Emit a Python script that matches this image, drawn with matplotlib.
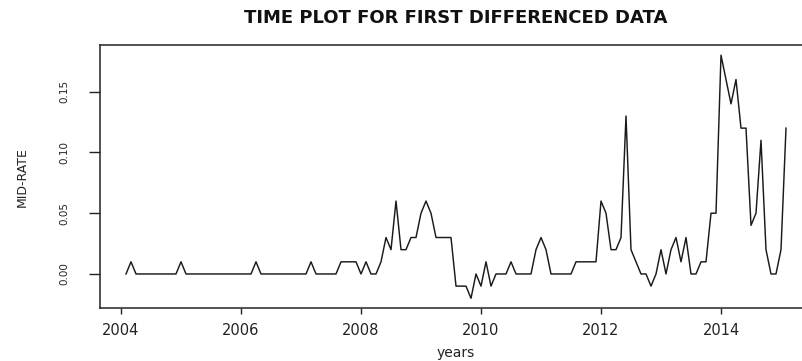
#Time plot of the first differenced mid-rate series (monthly, Feb 2004 - Feb 2015)
import numpy as np
import matplotlib
matplotlib.use('Agg')
import matplotlib.pyplot as plt

#Monthly first differences of the mid-rate
start_year = 2004
start_month = 2
diff_rate = [
    0.00, 0.01, 0.00, 0.00, 0.00, 0.00, 0.00, 0.00, 0.00, 0.00, 0.00,   # 2004
    0.01, 0.00, 0.00, 0.00, 0.00, 0.00, 0.00, 0.00, 0.00, 0.00, 0.00, 0.00,   # 2005
    0.00, 0.00, 0.00, 0.01, 0.00, 0.00, 0.00, 0.00, 0.00, 0.00, 0.00, 0.00,   # 2006
    0.00, 0.00, 0.01, 0.00, 0.00, 0.00, 0.00, 0.00, 0.01, 0.01, 0.01, 0.01,   # 2007
    0.00, 0.01, 0.00, 0.00, 0.01, 0.03, 0.02, 0.06, 0.02, 0.02, 0.03, 0.03,   # 2008
    0.05, 0.06, 0.05, 0.03, 0.03, 0.03, 0.03, -0.01, -0.01, -0.01, -0.02, 0.00,   # 2009
    -0.01, 0.01, -0.01, 0.00, 0.00, 0.00, 0.01, 0.00, 0.00, 0.00, 0.00, 0.02,   # 2010
    0.03, 0.02, 0.00, 0.00, 0.00, 0.00, 0.00, 0.01, 0.01, 0.01, 0.01, 0.01,   # 2011
    0.06, 0.05, 0.02, 0.02, 0.03, 0.13, 0.02, 0.01, 0.00, 0.00, -0.01, 0.00,   # 2012
    0.02, 0.00, 0.02, 0.03, 0.01, 0.03, 0.00, 0.00, 0.01, 0.01, 0.05, 0.05,   # 2013
    0.18, 0.16, 0.14, 0.16, 0.12, 0.12, 0.04, 0.05, 0.11, 0.02, 0.00, 0.00,   # 2014
    0.02, 0.12,   # 2015
]
x_ticks = [2004, 2006, 2008, 2010, 2012, 2014]
y_ticks = [0.00, 0.05, 0.10, 0.15]
y_tick_labels = ['0.00', '0.05', '0.10', '0.15']

#Time index like an R ts object with frequency 12
t = start_year + (start_month - 1 + np.arange(len(diff_rate))) / 12

plt.rcParams['font.family'] = ['DejaVu Sans']
fig = plt.figure(figsize=(8.03, 3.61), dpi=100)
ax = fig.add_axes([99.6 / 803, 53 / 361, 712.8 / 803, 262.5 / 361])

ax.plot(t, diff_rate, color='#1a1a1a', linewidth=1.05)
ax.margins(x=0.04, y=0.04)

for s in ax.spines.values():
    s.set_linewidth(1.1)
    s.set_color('#222222')

ax.set_xticks(x_ticks)
ax.set_xticklabels([str(v) for v in x_ticks], fontsize=10.5, color='#222222')
ax.set_yticks(y_ticks)
ax.set_yticklabels(y_tick_labels, fontsize=7.5, color='#222222', rotation=90, va='center')
ax.tick_params(axis='x', length=4.5, width=1.0, pad=6, colors='#222222')
ax.tick_params(axis='y', length=8, width=1.0, pad=14, colors='#222222')

ax.set_title('TIME PLOT FOR FIRST DIFFERENCED DATA', fontsize=13, fontweight='bold', pad=16, color='#111111')
ax.set_xlabel('years', fontsize=10, color='#222222')
ax.xaxis.set_label_coords(0.5, -0.143)
ax.set_ylabel('MID-RATE', fontsize=9, color='#222222')
ax.yaxis.set_label_coords(-0.1, 0.5)

plt.savefig('out.png', dpi=100)
